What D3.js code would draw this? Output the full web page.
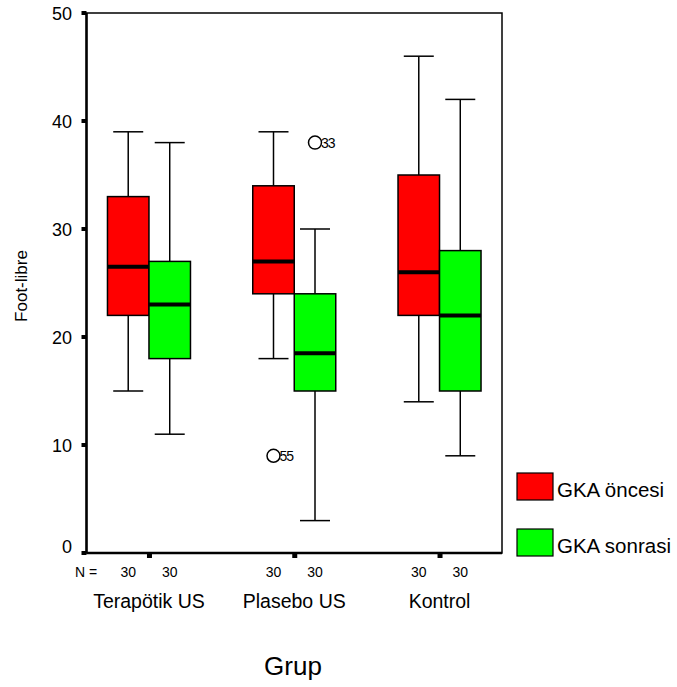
<!DOCTYPE html>
<html><head><meta charset="utf-8">
<script src="https://cdn.jsdelivr.net/npm/d3@7"></script>
<style>body{margin:0;background:#fff}svg{display:block}text{font-family:"Liberation Sans",Arial,sans-serif;fill:#000}</style>
</head><body><svg id="c" width="677" height="687"></svg>
<script>
const groups = ["Terapötik US", "Plasebo US", "Kontrol"];
const seriesNames = ["GKA öncesi", "GKA sonrasi"];
const seriesColors = ["#ff0000", "#00ff00"];
// [min, q1, median, q3, max] per group
const oncesi = [[15, 22, 26.5, 33, 39], [18, 24, 27, 34, 39], [14, 22, 26, 35, 46]];
const sonrasi = [[11, 18, 23, 27, 38], [3, 15, 18.5, 24, 30], [9, 15, 22, 28, 42]];
const counts = [[30, 30], [30, 30], [30, 30]];
const outliers = [
  {group: "Plasebo US", series: 0, value: 9, label: "55"},
  {group: "Plasebo US", series: 1, value: 38, label: "33"}
];
const yTicks = [0, 10, 20, 30, 40, 50];

const svg = d3.select("#c");
const L = 86.5, R = 502, T = 13, B = 553;
const y = d3.scaleLinear().domain([0, 50]).range([B, T]);
const x = d3.scalePoint().domain(groups).range([L, R]).padding(0.43);
const bw = 41.5;

// frame
svg.append("rect").attr("x", L).attr("y", T).attr("width", R - L).attr("height", B - T)
  .attr("fill", "none").attr("stroke", "#000").attr("stroke-width", 1.5);
svg.append("line").attr("x1", L).attr("x2", L).attr("y1", T).attr("y2", B).attr("stroke", "#000").attr("stroke-width", 2.5);
svg.append("line").attr("x1", L).attr("x2", R).attr("y1", B).attr("y2", B).attr("stroke", "#000").attr("stroke-width", 2.5);

// y ticks
yTicks.forEach(t => {
  svg.append("rect").attr("x", L - 5).attr("y", y(t) - 2).attr("width", 5).attr("height", 4).attr("fill", "#000");
  svg.append("text").attr("x", 72).attr("y", y(t) + (t === 0 ? 0 : 6.5)).attr("text-anchor", "end")
    .attr("font-size", 18).text(t);
});
// x ticks
groups.forEach(g => {
  svg.append("rect").attr("x", x(g) - 2).attr("y", B).attr("width", 5).attr("height", 5).attr("fill", "#000");
});

const allSeries = [oncesi, sonrasi];
groups.forEach((g, gi) => {
  allSeries.forEach((ser, si) => {
    const [mn, q1, md, q3, mx] = ser[gi];
    const cx = x(g) + (si === 0 ? -bw / 2 : bw / 2);
    const gg = svg.append("g");
    gg.append("line").attr("x1", cx).attr("x2", cx).attr("y1", y(mx)).attr("y2", y(q3)).attr("stroke", "#000").attr("stroke-width", 1.5);
    gg.append("line").attr("x1", cx).attr("x2", cx).attr("y1", y(q1)).attr("y2", y(mn)).attr("stroke", "#000").attr("stroke-width", 1.5);
    gg.append("line").attr("x1", cx - 15).attr("x2", cx + 15).attr("y1", y(mx)).attr("y2", y(mx)).attr("stroke", "#000").attr("stroke-width", 1.5);
    gg.append("line").attr("x1", cx - 15).attr("x2", cx + 15).attr("y1", y(mn)).attr("y2", y(mn)).attr("stroke", "#000").attr("stroke-width", 1.5);
    gg.append("rect").attr("x", cx - bw / 2).attr("y", y(q3)).attr("width", bw).attr("height", y(q1) - y(q3))
      .attr("fill", seriesColors[si]).attr("stroke", "#000").attr("stroke-width", 1.5);
    gg.append("line").attr("x1", cx - bw / 2).attr("x2", cx + bw / 2).attr("y1", y(md)).attr("y2", y(md)).attr("stroke", "#000").attr("stroke-width", 4);
    svg.append("text").attr("x", cx).attr("y", 577).attr("text-anchor", "middle").attr("font-size", 14).text(counts[gi][si]);
  });
  svg.append("text").attr("x", x(g)).attr("y", 608).attr("text-anchor", "middle").attr("font-size", 19.5).text(g);
});

outliers.forEach(o => {
  const cx = x(o.group) + (o.series === 0 ? -bw / 2 : bw / 2);
  svg.append("circle").attr("cx", cx).attr("cy", y(o.value)).attr("r", 6.5)
    .attr("fill", "none").attr("stroke", "#000").attr("stroke-width", 1.5);
  svg.append("text").attr("x", cx + 6).attr("y", y(o.value) + 5).attr("font-size", 14).attr("letter-spacing", -1).text(o.label);
});

svg.append("text").attr("x", 75).attr("y", 577).attr("font-size", 14).text("N =");

// axis titles
svg.append("text").attr("x", 293).attr("y", 675).attr("text-anchor", "middle").attr("font-size", 26).text("Grup");
svg.append("text").attr("transform", "translate(27,286) rotate(-90)").attr("text-anchor", "middle").attr("font-size", 17).text("Foot-libre");

// legend
seriesNames.forEach((s, i) => {
  const ly = 473 + i * 56;
  svg.append("rect").attr("x", 517).attr("y", ly).attr("width", 36).attr("height", 27)
    .attr("fill", seriesColors[i]).attr("stroke", "#000").attr("stroke-width", 1.2);
  svg.append("text").attr("x", 557).attr("y", ly + 24).attr("font-size", 20.5).text(s);
});
</script></body></html>
